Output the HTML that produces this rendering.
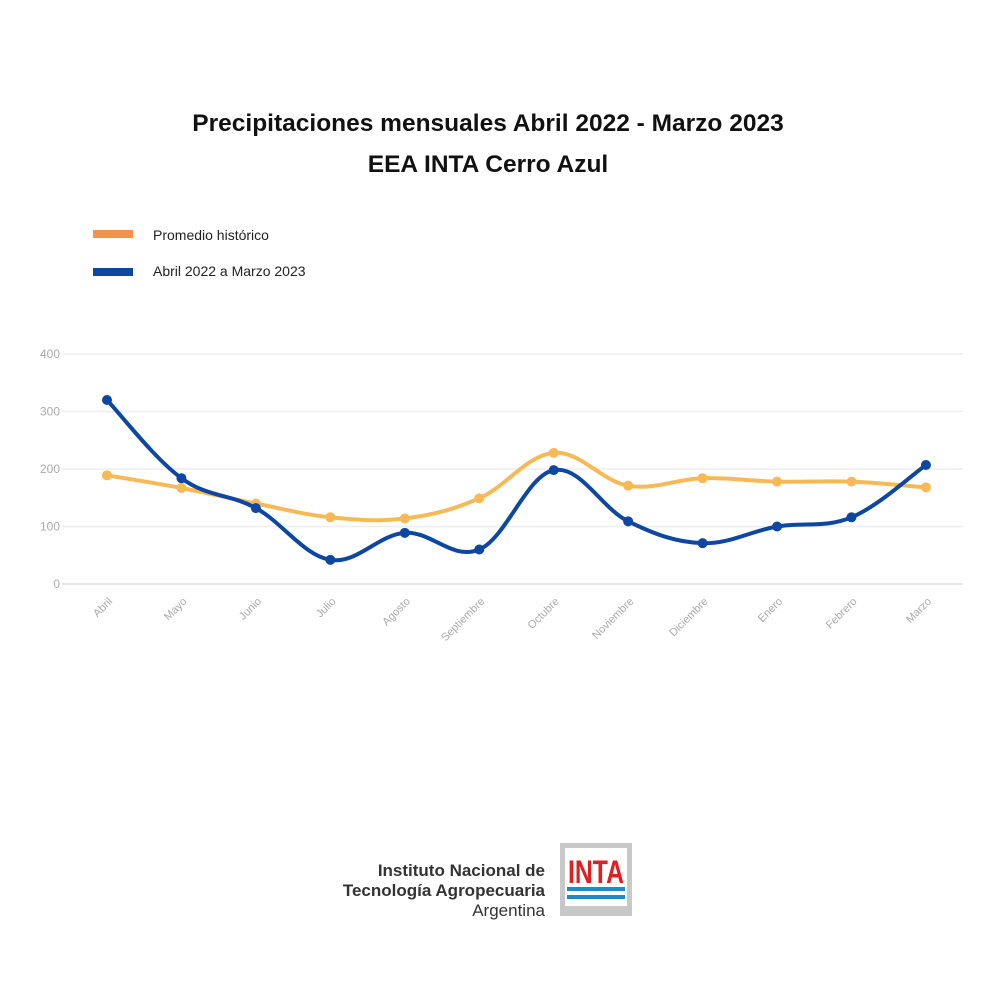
<!DOCTYPE html>
<html><head><meta charset="utf-8"><style>
body{margin:0;background:#fff;width:1000px;height:997px;overflow:hidden;font-family:"Liberation Sans",sans-serif}
</style></head><body>
<svg width="1000" height="997" xmlns="http://www.w3.org/2000/svg" id="s">
<text x="488" y="131" text-anchor="middle" font-size="24.5" font-weight="bold" fill="#111">Precipitaciones mensuales Abril 2022 - Marzo 2023</text>
<text x="488" y="172" text-anchor="middle" font-size="24.5" font-weight="bold" fill="#111">EEA INTA Cerro Azul</text>
<rect x="93" y="230" width="40" height="8" fill="#f5924a"/>
<text x="153" y="240" font-size="14" fill="#222">Promedio histórico</text>
<rect x="93" y="268" width="40" height="8" fill="#0d47a1"/>
<text x="153" y="276" font-size="14" fill="#222">Abril 2022 a Marzo 2023</text>
<g id="grid" font-size="12" fill="#aaa"></g>
<g id="lines"></g>
<text x="545" y="876" text-anchor="end" font-size="17" font-weight="bold" fill="#333">Instituto Nacional de</text>
<text x="545" y="896" text-anchor="end" font-size="17" font-weight="bold" fill="#333">Tecnología Agropecuaria</text>
<text x="545" y="916" text-anchor="end" font-size="17" fill="#333">Argentina</text>
<rect x="560" y="843" width="72" height="73" fill="#c8c8c8"/>
<rect x="565" y="848" width="62" height="58" fill="#fff"/>
<text x="596" y="883" text-anchor="middle" font-size="32" font-weight="bold" fill="#e02020" textLength="56" lengthAdjust="spacingAndGlyphs">INTA</text>
<rect x="567" y="887" width="58" height="4" fill="#1e88d0"/>
<rect x="567" y="895" width="58" height="4" fill="#1e88d0"/>
</svg>
<script>
const ns="http://www.w3.org/2000/svg";
const g=document.getElementById('grid'),L=document.getElementById('lines');
const X=i=>107+i*74.45, Y=v=>584-v*0.575;
function el(t,a,p){const e=document.createElementNS(ns,t);for(const k in a)e.setAttribute(k,a[k]);p.appendChild(e);return e;}
for(let v=0;v<=400;v+=100){el('line',{x1:62,x2:963,y1:Y(v),y2:Y(v),stroke:v?'#eee':'#ddd','stroke-width':1.5},g);
const t=el('text',{x:60,y:Y(v)+4,'text-anchor':'end'},g);t.textContent=v;}
const m=["Abril","Mayo","Junio","Julio","Agosto","Septiembre","Octubre","Noviembre","Diciembre","Enero","Febrero","Marzo"];
m.forEach((n,i)=>{const t=el('text',{x:X(i)+6,y:602,'text-anchor':'end','font-size':11,transform:`rotate(-45 ${X(i)+6} 602)`},g);t.textContent=n;});
function path(d,c){const p=d.map((v,i)=>[X(i),Y(v)]);let s=`M${p[0]}`;
for(let i=0;i<p.length-1;i++){const p0=p[i-1]||p[i],p1=p[i],p2=p[i+1],p3=p[i+2]||p2,k=0.18;
s+=` C${p1[0]+(p2[0]-p0[0])*k},${p1[1]+(p2[1]-p0[1])*k} ${p2[0]-(p3[0]-p1[0])*k},${p2[1]-(p3[1]-p1[1])*k} ${p2[0]},${p2[1]}`;}
el('path',{d:s,fill:'none',stroke:c,'stroke-width':4},L);p.forEach(q=>el('circle',{cx:q[0],cy:q[1],r:5,fill:c},L));}
path([189,167,140,116,114,149,228,171,184,178,178,168],'#f7b955');
path([320,184,132,42,89,60,198,109,71,100,116,207],'#0d47a1');
</script>
</body></html>
